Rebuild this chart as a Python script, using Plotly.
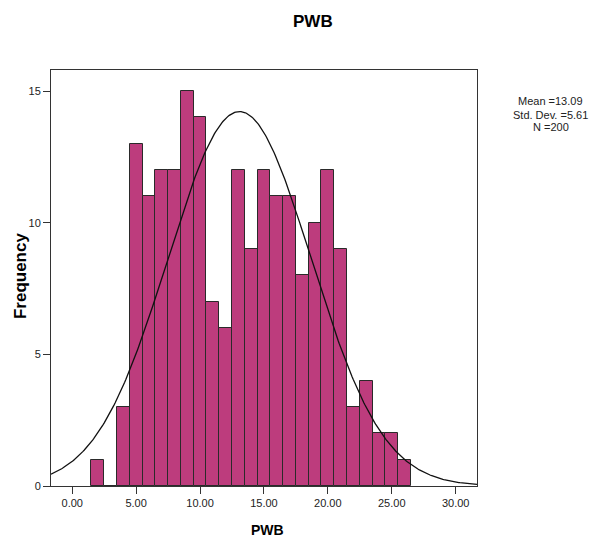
import numpy as np
import plotly.graph_objects as go

# Data (bin width 1, bins centred on integers)
bin_centers = [2, 3, 4, 5, 6, 7, 8, 9, 10, 11, 12, 13, 14, 15, 16, 17, 18, 19, 20, 21, 22, 23, 24, 25, 26]
counts = [1, 0, 3, 13, 11, 12, 12, 15, 14, 7, 6, 12, 9, 12, 11, 11, 8, 10, 12, 9, 3, 4, 2, 2, 1]
mean_val = 13.09
sd_val = 5.61
n_val = 200
x_ticks = [0, 5, 10, 15, 20, 25, 30]
x_tick_labels = ["0.00", "5.00", "10.00", "15.00", "20.00", "25.00", "30.00"]
y_ticks = [0, 5, 10, 15]
x_range = [-1.66, 31.67]
y_range = [0, 15.8]

FONT = "Liberation Sans, Arial, sans-serif"
BAR_COLOR = "#BD3C7D"

# Normal curve from the reported mean / sd / N (bin width 1)
xc = np.linspace(x_range[0], x_range[1], 400)
yc = n_val * 1.0 / (sd_val * np.sqrt(2 * np.pi)) * np.exp(-0.5 * ((xc - mean_val) / sd_val) ** 2)

fig = go.Figure()
fig.add_trace(go.Bar(
    x=bin_centers, y=counts, width=1,
    marker=dict(color=BAR_COLOR, line=dict(color="#2a2a2a", width=1)),
    hoverinfo="x+y",
))
fig.add_trace(go.Scatter(
    x=xc, y=yc, mode="lines",
    line=dict(color="#111111", width=1.3),
    hoverinfo="skip",
))

fig.update_layout(
    width=590, height=538,
    margin=dict(l=51, r=113, t=70, b=52),
    paper_bgcolor="white", plot_bgcolor="white",
    showlegend=False,
    bargap=0,
    font=dict(family=FONT, color="#222222", size=11),
    xaxis=dict(
        range=x_range, tickvals=x_ticks, ticktext=x_tick_labels,
        ticks="outside", ticklen=7, tickcolor="#333333", tickwidth=1,
        showgrid=False, zeroline=False,
        showline=True, linecolor="#333333", linewidth=1, mirror=True,
        tickfont=dict(family=FONT, size=11, color="#222222"),
    ),
    yaxis=dict(
        range=y_range, tickvals=y_ticks,
        ticks="outside", ticklen=7, tickcolor="#333333", tickwidth=1,
        showgrid=False, zeroline=False,
        showline=True, linecolor="#333333", linewidth=1, mirror=True,
        tickfont=dict(family=FONT, size=11, color="#222222"),
    ),
    annotations=[
        dict(text="<b>PWB</b>", x=0.614, y=1.1166, xref="paper", yref="paper",
             showarrow=False, xanchor="center", yanchor="middle",
             font=dict(family=FONT, size=17, color="#000000")),
        dict(text="<b>PWB</b>", x=0.508, y=-0.1058, xref="paper", yref="paper",
             showarrow=False, xanchor="center", yanchor="middle",
             font=dict(family=FONT, size=14, color="#000000")),
        dict(text="<b>Frequency</b>", x=-0.0728, y=0.507, xref="paper", yref="paper",
             showarrow=False, xanchor="center", yanchor="middle", textangle=-90,
             font=dict(family=FONT, size=17, color="#000000")),
        dict(text=f"Mean ={mean_val:.2f}", x=1.1737, y=0.9243, xref="paper", yref="paper",
             showarrow=False, xanchor="center", yanchor="middle",
             font=dict(family=FONT, size=11, color="#222222")),
        dict(text=f"Std. Dev. ={sd_val:.2f}", x=1.1737, y=0.893, xref="paper", yref="paper",
             showarrow=False, xanchor="center", yanchor="middle",
             font=dict(family=FONT, size=11, color="#222222")),
        dict(text=f"N ={n_val}", x=1.1737, y=0.8618, xref="paper", yref="paper",
             showarrow=False, xanchor="center", yanchor="middle",
             font=dict(family=FONT, size=11, color="#222222")),
    ],
)

# remove the default page margin so the 590x538 figure fills the window exactly
fig.write_html(
    "out.html",
    config={"displayModeBar": False},
    post_script="document.body.style.margin='0';document.body.style.overflow='hidden';",
)
